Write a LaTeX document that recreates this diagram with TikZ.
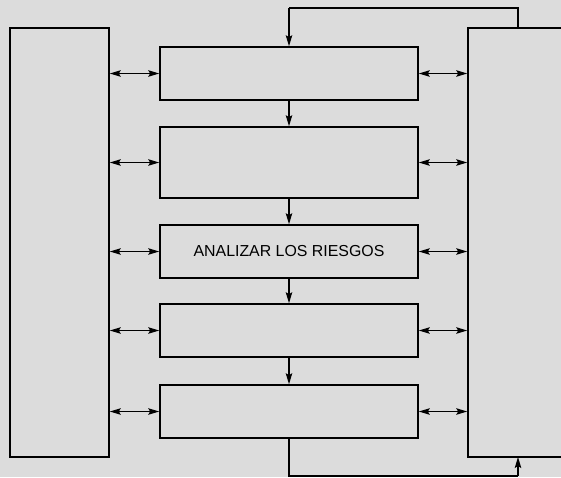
\documentclass[tikz,border=0pt]{standalone}
\usepackage{fontspec}
\setmainfont{Liberation Sans}
\usetikzlibrary{arrows.meta}
\definecolor{bgc}{RGB}{220,220,220}
\begin{document}
\begin{tikzpicture}[x=1pt,y=-1pt,
  boxsty/.style={draw, line width=1.6pt, inner sep=0pt, minimum width=258pt, anchor=center},
  sidebox/.style={draw, line width=1.6pt, inner sep=0pt, minimum height=429pt},
  conn/.style={line width=1.2pt, -{Stealth[length=11pt,width=6.5pt,inset=2pt]}},
  dconn/.style={line width=1.2pt, {Stealth[length=11pt,width=6.5pt,inset=2pt]}-{Stealth[length=11pt,width=6.5pt,inset=2pt]}},
  fline/.style={line width=1.4pt}]
\clip (0,0) rectangle (561,477);
\fill[bgc] (0,0) rectangle (561,477);
\node[sidebox, minimum width=99pt] (L) at (59.5,242.5) {};
\node[sidebox, minimum width=112pt] (R) at (524,242.5) {};
\node[boxsty, minimum height=53pt] (b1) at (289,73.5) {};
\node[boxsty, minimum height=71pt] (b2) at (289,162.5) {};
\node[boxsty, minimum height=53pt, font=\fontsize{15.9}{18}\selectfont] (b3) at (289,251.5) {ANALIZAR LOS RIESGOS};
\node[boxsty, minimum height=53pt] (b4) at (289,330.5) {};
\node[boxsty, minimum height=53pt] (b5) at (289,411.5) {};
\foreach \b in {b1,b2,b3,b4,b5}{
  \draw[dconn] (L.east |- \b.west) -- (\b.west);
  \draw[dconn] (\b.east) -- (R.west |- \b.east);
}
\draw[conn] (b1.south) -- (b2.north);
\draw[conn] (b2.south) -- (b3.north);
\draw[conn] (b3.south) -- (b4.north);
\draw[conn] (b4.south) -- (b5.north);
\coordinate (tR) at (518,28);
\coordinate (tRu) at (518,8);
\coordinate (tLu) at (289,8);
\draw[fline] (tR) -- (tRu) -- (tLu);
\draw[conn] (tLu) -- (b1.north);
\coordinate (bL) at (289,476);
\coordinate (bR) at (518,476);
\coordinate (bT) at (518,457);
\draw[fline] (b5.south) -- (bL) -- (bR);
\draw[conn] (bR) -- (bT);
\end{tikzpicture}
\end{document}
